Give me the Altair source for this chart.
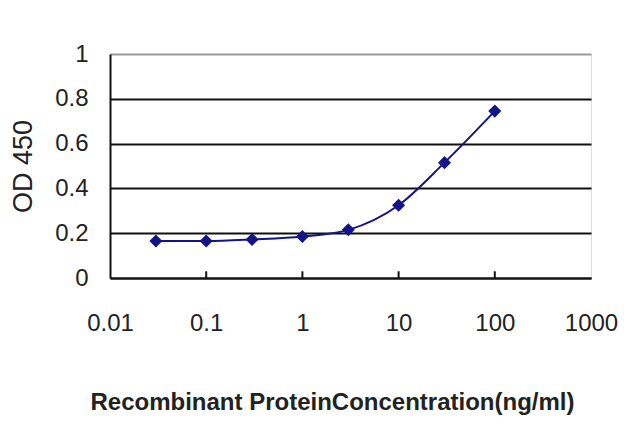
import altair as alt
import pandas as pd

conc = [0.03, 0.1, 0.3, 1, 3, 10, 30, 100]
od450 = [0.165, 0.165, 0.172, 0.185, 0.215, 0.325, 0.515, 0.745]
x_ticks = [0.01, 0.1, 1, 10, 100, 1000]
y_ticks = [0, 0.2, 0.4, 0.6, 0.8, 1]
inner_ticks = [0.1, 1, 10, 100]

df = pd.DataFrame({"conc": conc, "od": od450})
ticks_df = pd.DataFrame({"t": inner_ticks})

FONT = "Liberation Sans"
NAVY = "#14148a"

xscale = alt.Scale(type="log", domain=[0.01, 1000])
yscale = alt.Scale(domain=[0, 1])

xaxis = alt.Axis(
    values=x_ticks, format="~g", grid=False, tickSize=0, labelPadding=33,
    labelFontSize=24, labelFont=FONT, labelColor="#222",
    domainColor="#111", domainWidth=2,
    title="Recombinant ProteinConcentration(ng/ml)",
    titleFont=FONT, titleFontSize=24, titleFontWeight="bold", titleColor="#222",
    titleX=222, titleY=131, titleAlign="center", titleBaseline="alphabetic",
    labelFlush=False,
)
yaxis = alt.Axis(
    values=y_ticks, format="~g", grid=True, tickSize=0, labelPadding=22,
    labelFontSize=24, labelFont=FONT, labelColor="#222",
    domainColor="#111", domainWidth=2,
    gridColor={"condition": {"test": "datum.value == 1", "value": "#999"}, "value": "#111"},
    gridWidth=2,
    title="OD 450", titleFont=FONT, titleFontSize=27, titleFontWeight="normal",
    titleColor="#222", titlePadding=17,
)

base = alt.Chart(df)

line = base.mark_line(color=NAVY, strokeWidth=2, interpolate="monotone").encode(
    x=alt.X("conc:Q", scale=xscale, axis=xaxis),
    y=alt.Y("od:Q", scale=yscale, axis=yaxis),
)
points = base.mark_point(shape="diamond", filled=True, color=NAVY, size=170, opacity=1).encode(
    x=alt.X("conc:Q", scale=xscale),
    y=alt.Y("od:Q", scale=yscale),
)
tick_rules = alt.Chart(ticks_df).mark_rule(color="#111", strokeWidth=2).encode(
    x=alt.X("t:Q", scale=xscale),
    y=alt.datum(0, scale=yscale),
    y2=alt.datum(0.03),
)

chart = alt.layer(line, tick_rules, points).properties(
    width=481, height=224,
    autosize=alt.AutoSizeParams(type="none"),
    padding={"left": 102, "top": 46, "right": 30, "bottom": 142},
).configure_view(stroke="#999", strokeWidth=1.5).configure(background="white")

chart.save("out.html", embed_options={"renderer": "svg", "actions": False})
